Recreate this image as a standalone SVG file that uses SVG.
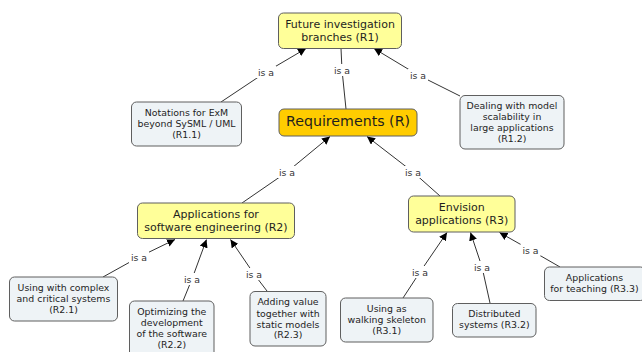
<svg xmlns="http://www.w3.org/2000/svg" width="642" height="352" viewBox="0 0 642 352">
  <style>
    .box { stroke: #5f5f5f; stroke-width: 1; }
    .main { fill: #ffff99; }
    .root { fill: #ffcc00; }
    .leaf { fill: #eef3f6; }
    text { font-family: "DejaVu Sans", "Noto Sans", sans-serif; fill: #1e1e1e; text-anchor: middle; }
    .t11 { font-size: 11px; }
    .t14 { font-size: 14.2px; }
    .t9 { font-size: 9.4px; }
    .lbl { font-size: 9.4px; fill: #333333; }
    .link { fill: none; stroke: #333333; stroke-width: 1; }
    .lblbg { fill: #ffffff; }
  </style>
  <defs>
    <marker id="arrow" viewBox="0 0 10 10" refX="10" refY="5" markerWidth="8" markerHeight="8" markerUnits="userSpaceOnUse" orient="auto">
      <path d="M0,0 L10,5 L0,10 Z" fill="#000000"/>
    </marker>
  </defs>

  <rect width="642" height="352" fill="#ffffff"/>

  <!-- connectors: child -> label -> parent -->
  <g id="connectors">
    <path class="link" d="M221,102 L266,72 L306,48.5" marker-end="url(#arrow)"/>
    <path class="link" d="M346,109 L342,70 L341,48.5"/>
    <path class="link" d="M460,96 L418,75 L374,48.5" marker-end="url(#arrow)"/>
    <path class="link" d="M242,203 L287,172 L330,136.5" marker-end="url(#arrow)"/>
    <path class="link" d="M440,196 L413,172 L367,136.5" marker-end="url(#arrow)"/>
    <path class="link" d="M103,277 L139,257 L175,239.5" marker-end="url(#arrow)"/>
    <path class="link" d="M183,301 L192,279 L206.5,239.5" marker-end="url(#arrow)"/>
    <path class="link" d="M267,291 L254,274 L230.5,239.5" marker-end="url(#arrow)"/>
    <path class="link" d="M403,298 L420,272 L447,232.5" marker-end="url(#arrow)"/>
    <path class="link" d="M490,303 L482,267 L470.5,232.5" marker-end="url(#arrow)"/>
    <path class="link" d="M560,267 L530.5,250 L499.5,232.5" marker-end="url(#arrow)"/>

    <g id="labels">
      <rect class="lblbg" x="256" y="66" width="20" height="12"/>
      <text class="lbl" x="266" y="75.5">is a</text>
      <rect class="lblbg" x="332" y="64" width="20" height="12"/>
      <text class="lbl" x="342" y="73.5">is a</text>
      <rect class="lblbg" x="408" y="69" width="20" height="12"/>
      <text class="lbl" x="418" y="78.5">is a</text>
      <rect class="lblbg" x="277" y="166" width="20" height="12"/>
      <text class="lbl" x="287" y="175.5">is a</text>
      <rect class="lblbg" x="403" y="166" width="20" height="12"/>
      <text class="lbl" x="413" y="175.5">is a</text>
      <rect class="lblbg" x="129" y="251" width="20" height="12"/>
      <text class="lbl" x="139" y="260.5">is a</text>
      <rect class="lblbg" x="182" y="273" width="20" height="12"/>
      <text class="lbl" x="192" y="282.5">is a</text>
      <rect class="lblbg" x="244" y="268" width="20" height="12"/>
      <text class="lbl" x="254" y="277.5">is a</text>
      <rect class="lblbg" x="410" y="266" width="20" height="12"/>
      <text class="lbl" x="420" y="275.5">is a</text>
      <rect class="lblbg" x="472" y="261" width="20" height="12"/>
      <text class="lbl" x="482" y="270.5">is a</text>
      <rect class="lblbg" x="520.5" y="244" width="20" height="12"/>
      <text class="lbl" x="530.5" y="253.5">is a</text>
    </g>
  </g>

  <g id="R1">
    <rect class="box main" x="278.5" y="13" width="123" height="35.5" rx="5"/>
    <text class="t11" x="340" y="28">Future investigation</text>
    <text class="t11" x="340" y="41">branches (R1)</text>
  </g>

  <g id="R">
    <rect class="box root" x="279" y="109" width="138" height="27" rx="5"/>
    <text class="t14" x="348" y="126.2">Requirements (R)</text>
  </g>

  <g id="R1_1">
    <rect class="box leaf" x="131.5" y="102" width="110" height="44" rx="5"/>
    <text class="t9" x="186.5" y="116">Notations for ExM</text>
    <text class="t9" x="186.5" y="127">beyond SySML / UML</text>
    <text class="t9" x="186.5" y="138">(R1.1)</text>
  </g>

  <g id="R1_2">
    <rect class="box leaf" x="460" y="95.5" width="104" height="53.5" rx="5"/>
    <text class="t9" x="512" y="108.7">Dealing with model</text>
    <text class="t9" x="512" y="120">scalability in</text>
    <text class="t9" x="512" y="131">large applications</text>
    <text class="t9" x="512" y="142">(R1.2)</text>
  </g>

  <g id="R2">
    <rect class="box main" x="137.5" y="203" width="157" height="35.5" rx="5"/>
    <text class="t11" x="216" y="218">Applications for</text>
    <text class="t11" x="216" y="231">software engineering (R2)</text>
  </g>

  <g id="R3">
    <rect class="box main" x="408.5" y="196" width="106.5" height="36" rx="5"/>
    <text class="t11" x="461.7" y="210.7">Envision</text>
    <text class="t11" x="461.7" y="223.7">applications (R3)</text>
  </g>

  <g id="R2_1">
    <rect class="box leaf" x="9.5" y="277" width="108" height="44" rx="5"/>
    <text class="t9" x="63.5" y="291">Using with complex</text>
    <text class="t9" x="63.5" y="302.3">and critical systems</text>
    <text class="t9" x="63.5" y="313.3">(R2.1)</text>
  </g>

  <g id="R2_2">
    <rect class="box leaf" x="129.5" y="301" width="84.5" height="56" rx="5"/>
    <text class="t9" x="171.8" y="315">Optimizing the</text>
    <text class="t9" x="171.8" y="326">development</text>
    <text class="t9" x="171.8" y="336.7">of the software</text>
    <text class="t9" x="171.8" y="347.7">(R2.2)</text>
  </g>

  <g id="R2_3">
    <rect class="box leaf" x="250" y="291.5" width="76" height="54.5" rx="5"/>
    <text class="t9" x="288" y="305.4">Adding value</text>
    <text class="t9" x="288" y="316.7">together with</text>
    <text class="t9" x="288" y="327.7">static models</text>
    <text class="t9" x="288" y="338.4">(R2.3)</text>
  </g>

  <g id="R3_1">
    <rect class="box leaf" x="340.5" y="298" width="92.5" height="44" rx="5"/>
    <text class="t9" x="386.7" y="311.7">Using as</text>
    <text class="t9" x="386.7" y="322.7">walking skeleton</text>
    <text class="t9" x="386.7" y="334">(R3.1)</text>
  </g>

  <g id="R3_2">
    <rect class="box leaf" x="452.5" y="303.5" width="83.5" height="33.5" rx="5"/>
    <text class="t9" x="494.3" y="317">Distributed</text>
    <text class="t9" x="494.3" y="328">systems (R3.2)</text>
  </g>

  <g id="R3_3">
    <rect class="box leaf" x="544.5" y="267" width="101" height="33.5" rx="5"/>
    <text class="t9" x="594.5" y="280.7">Applications</text>
    <text class="t9" x="594.5" y="291.7">for teaching (R3.3)</text>
  </g>
</svg>
